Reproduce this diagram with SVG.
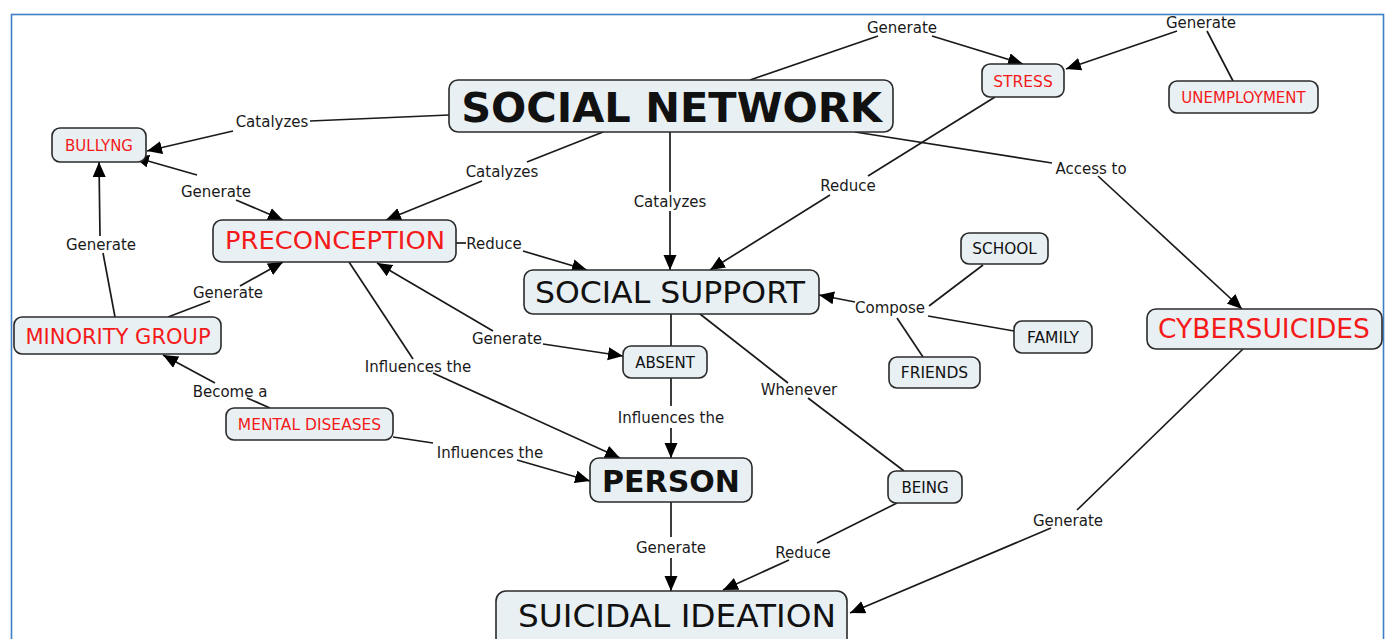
<svg xmlns="http://www.w3.org/2000/svg" width="1390" height="639" viewBox="0 0 1390 639">
<style>
.node rect{fill:#e8f0f4;stroke:#2a2a2a;stroke-width:1.6}
.node text{font-family:"DejaVu Sans",Verdana,sans-serif;text-anchor:middle}
.red{fill:#f41a1a}
.blk{fill:#111}
.lbl{font-family:"DejaVu Sans",Verdana,sans-serif;font-size:15px;fill:#1a1a1a;text-anchor:middle}
.ln{fill:none;stroke:#1a1a1a;stroke-width:1.7}
.ar{marker-end:url(#ah)}
.ar2{marker-start:url(#ah);marker-end:url(#ah)}
</style>
<defs>
<marker id="ah" markerUnits="userSpaceOnUse" markerWidth="16" markerHeight="14" refX="15" refY="6.5" orient="auto-start-reverse">
<path d="M0,0 L15,6.5 L0,13 z" fill="#000"/>
</marker>
</defs>
<rect x="0" y="0" width="1390" height="639" fill="#fff"/>
<rect x="11.5" y="14.5" width="1372" height="700" fill="none" stroke="#3f7fc6" stroke-width="1.6"/>
<g id="connectors">
<path class="ln" d="M750,80 L878,36"/><path class="ln ar" d="M932,36 L1023,64"/>
<path class="ln" d="M1233,81 L1207,31"/><path class="ln ar" d="M1177,31 L1066,69"/>
<path class="ln" d="M449,115 L310,121"/><path class="ln ar" d="M233,131 L147,151"/>
<path class="ln ar" d="M197,175 L134,157"/><path class="ln ar" d="M236,200 L283,220"/>
<path class="ln" d="M115,317 L103,253"/><path class="ln ar" d="M100,236 L99,162"/>
<path class="ln" d="M168,317 L210,301"/><path class="ln ar" d="M240,286 L283,262"/>
<path class="ln" d="M603,132 L527,162"/><path class="ln ar" d="M482,181 L386,220"/>
<path class="ln" d="M670,132 L670,192"/><path class="ln ar" d="M670,211 L670,270"/>
<path class="ln" d="M995,97 L868,176"/><path class="ln ar" d="M830,195 L710,270"/>
<path class="ln" d="M855,132 L1052,163"/><path class="ln ar" d="M1098,176 L1242,309"/>
<path class="ln" d="M456,243 L466,243"/><path class="ln ar" d="M523,251 L587,270"/>
<path class="ln ar" d="M493,331 L377,263"/><path class="ln ar" d="M543,344 L623,356"/>
<path class="ln" d="M671,314 L671,346"/>
<path class="ln" d="M671,378 L671,406"/><path class="ln ar" d="M671,428 L671,458"/>
<path class="ln" d="M349,262 L413,359"/><path class="ln ar" d="M433,373 L620,458"/>
<path class="ln" d="M270,408 L247,398"/><path class="ln ar" d="M215,383 L163,355"/>
<path class="ln" d="M393,437 L433,443"/><path class="ln ar" d="M517,460 L590,481"/>
<path class="ln" d="M700,314 L788,383"/><path class="ln" d="M808,398 L904,471"/>
<path class="ln" d="M983,265 L929,306"/><path class="ln" d="M928,316 L1014,331"/><path class="ln" d="M897,318 L923,357"/>
<path class="ln ar" d="M855,302 L819,295"/>
<path class="ln" d="M897,503 L817,543"/><path class="ln ar" d="M789,560 L723,590"/>
<path class="ln" d="M1243,349 L1077,510"/><path class="ln ar" d="M1051,528 L850,613"/>
<path class="ln" d="M671,502 L671,537"/><path class="ln ar" d="M671,558 L671,591"/>
</g>
<g id="labels">
<text class="lbl" x="902" y="33">Generate</text>
<text class="lbl" x="1201" y="28">Generate</text>
<text class="lbl" x="272" y="127">Catalyzes</text>
<text class="lbl" x="216" y="197">Generate</text>
<text class="lbl" x="101" y="250">Generate</text>
<text class="lbl" x="228" y="298">Generate</text>
<text class="lbl" x="230" y="397">Become a</text>
<text class="lbl" x="418" y="372">Influences the</text>
<text class="lbl" x="502" y="177">Catalyzes</text>
<text class="lbl" x="670" y="207">Catalyzes</text>
<text class="lbl" x="848" y="191">Reduce</text>
<text class="lbl" x="1091" y="174">Access to</text>
<text class="lbl" x="494" y="249">Reduce</text>
<text class="lbl" x="507" y="344">Generate</text>
<text class="lbl" x="671" y="423">Influences the</text>
<text class="lbl" x="799" y="395">Whenever</text>
<text class="lbl" x="890" y="313">Compose</text>
<text class="lbl" x="490" y="458">Influences the</text>
<text class="lbl" x="671" y="553">Generate</text>
<text class="lbl" x="803" y="558">Reduce</text>
<text class="lbl" x="1068" y="526">Generate</text>
</g>
<g id="social-network" class="node"><rect x="449" y="80" width="444" height="52" rx="9"/><text class="blk" x="671.5" y="122" font-size="41.5" font-weight="bold">SOCIAL NETWORK</text></g>
<g id="stress" class="node"><rect x="982" y="64" width="82" height="33" rx="8"/><text class="red" x="1023" y="87" font-size="15.5">STRESS</text></g>
<g id="unemployment" class="node"><rect x="1169" y="81" width="149" height="32" rx="8"/><text class="red" x="1243.5" y="103" font-size="15">UNEMPLOYMENT</text></g>
<g id="bullyng" class="node"><rect x="52" y="128" width="94" height="34" rx="8"/><text class="red" x="99" y="151" font-size="15">BULLYNG</text></g>
<g id="preconception" class="node"><rect x="213" y="220" width="243" height="42" rx="9"/><text class="red" x="335" y="249" font-size="25.5" textLength="220" lengthAdjust="spacingAndGlyphs">PRECONCEPTION</text></g>
<g id="minority-group" class="node"><rect x="14" y="317" width="207" height="37" rx="8"/><text class="red" x="118" y="344" font-size="21">MINORITY GROUP</text></g>
<g id="mental-diseases" class="node"><rect x="226" y="408" width="167" height="32" rx="8"/><text class="red" x="309.5" y="430" font-size="15.5">MENTAL DISEASES</text></g>
<g id="social-support" class="node"><rect x="524" y="270" width="295" height="44" rx="9"/><text class="blk" x="670" y="303" font-size="31" textLength="270" lengthAdjust="spacingAndGlyphs">SOCIAL SUPPORT</text></g>
<g id="absent" class="node"><rect x="623" y="346" width="84" height="32" rx="8"/><text class="blk" x="665" y="368" font-size="15">ABSENT</text></g>
<g id="school" class="node"><rect x="961" y="233" width="87" height="31" rx="8"/><text class="blk" x="1004.5" y="254" font-size="15.3">SCHOOL</text></g>
<g id="family" class="node"><rect x="1014" y="321" width="78" height="32" rx="8"/><text class="blk" x="1053" y="343" font-size="15.5">FAMILY</text></g>
<g id="friends" class="node"><rect x="889" y="357" width="91" height="31" rx="8"/><text class="blk" x="934.5" y="378" font-size="15.5">FRIENDS</text></g>
<g id="cybersuicides" class="node"><rect x="1147" y="309" width="235" height="40" rx="9"/><text class="red" x="1264" y="338" font-size="26.5">CYBERSUICIDES</text></g>
<g id="person" class="node"><rect x="590" y="458" width="162" height="44" rx="9"/><text class="blk" x="671" y="492" font-size="30" font-weight="bold">PERSON</text></g>
<g id="being" class="node"><rect x="888" y="471" width="74" height="32" rx="8"/><text class="blk" x="925" y="493" font-size="15">BEING</text></g>
<g id="suicidal-ideation" class="node"><rect x="496" y="591" width="351" height="70" rx="10"/><text class="blk" x="677" y="627" font-size="31.5" textLength="318" lengthAdjust="spacingAndGlyphs">SUICIDAL IDEATION</text></g>
</svg>
